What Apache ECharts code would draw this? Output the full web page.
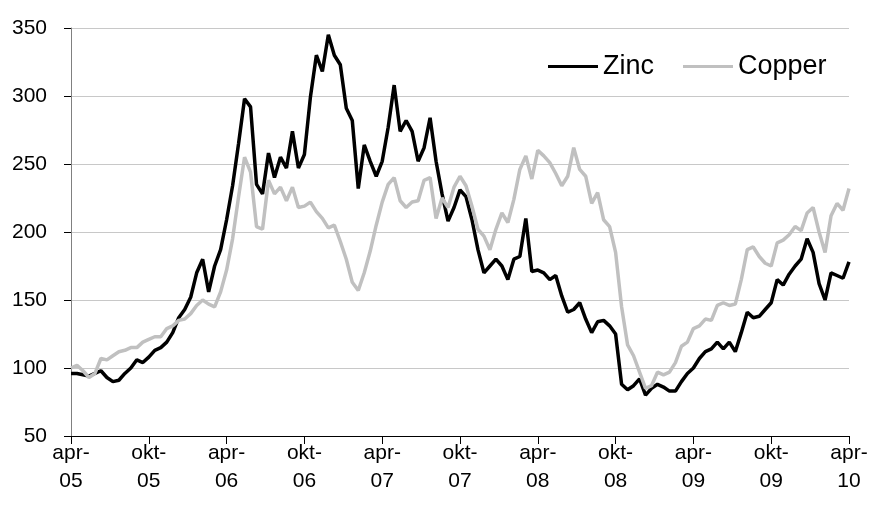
<!DOCTYPE html>
<html>
<head>
<meta charset="utf-8">
<script src="https://cdn.jsdelivr.net/npm/echarts@6/dist/echarts.min.js"></script>
<style>
  html, body { margin: 0; padding: 0; background: #fff; }
  #chart { width: 873px; height: 515px; }
</style>
</head>
<body>
<div id="chart"></div>
<script>
// one point every two weeks, apr-05 .. apr-10 (13 steps per half year)
const tickLabels = ['apr-\n05', 'okt-\n05', 'apr-\n06', 'okt-\n06', 'apr-\n07', 'okt-\n07',
  'apr-\n08', 'okt-\n08', 'apr-\n09', 'okt-\n09', 'apr-\n10']

const zinc = [
  96, 96, 95, 94, 96, 98, 93, 90, 91, 96, 100, 106, 104,
  108, 113, 115, 119, 126, 137, 143, 152, 170, 180, 156, 175, 187,
  209, 234, 265, 298, 292, 235, 228, 258, 240, 255, 247, 274, 247,
  257, 299, 330, 318, 345, 330, 323, 291, 282, 232, 264, 252, 241,
  252, 277, 308, 274, 282, 274, 252, 262, 284, 252, 228, 208, 218,
  231, 226, 209, 187, 170, 175, 180, 175, 165, 180, 182, 210, 171,
  172, 170, 165, 168, 153, 141, 143, 148, 136, 126, 134, 135, 131,
  125, 88, 84, 87, 92, 80, 85, 88, 86, 83, 83, 90, 96,
  100, 107, 112, 114, 119, 114, 119, 112, 126, 141, 137, 138, 143,
  148, 165, 161, 169, 175, 180, 195, 185, 162, 150, 170, 168, 166,
  178
]

const copper = [
  100, 102, 98, 93, 96, 107, 106, 109, 112, 113, 115, 115, 119,
  121, 123, 123, 129, 131, 135, 136, 140, 146, 150, 147, 145, 156,
  172, 195, 226, 255, 244, 204, 202, 238, 228, 233, 223, 233, 218,
  219, 222, 215, 210, 203, 205, 193, 180, 163, 157, 170, 186, 205,
  222, 235, 240, 223, 218, 222, 223, 238, 240, 210, 225, 218, 233,
  241, 234, 219, 202, 197, 187, 202, 214, 207, 224, 246, 256, 239,
  260, 256, 251, 243, 234, 241, 262, 246, 241, 221, 229, 209, 204,
  185, 145, 117, 109, 97, 85, 87, 97, 95, 97, 104, 116, 119,
  129, 131, 136, 135, 146, 148, 146, 147, 165, 187, 189, 182, 177,
  175, 192, 194, 198, 204, 201, 214, 218, 200, 185, 212, 221, 216,
  232
]

const categories = zinc.map((v, i) => (i % 13 === 0 ? tickLabels[i / 13] : String(i)))
const isTick = (idx) => idx % 13 === 0

const font = 'Liberation Sans, Arial, sans-serif'

const chart = echarts.init(document.getElementById('chart'))
chart.setOption({
  animation: false,
  grid: { left: 71, right: 24, top: 28, bottom: 79 },
  legend: {
    left: 543,
    top: 48,
    icon: 'rect',
    itemWidth: 50,
    itemHeight: 3,
    itemGap: 29,
    textStyle: { fontFamily: font, fontSize: 27, color: '#000' },
    data: ['Zinc', 'Copper']
  },
  xAxis: {
    type: 'category',
    boundaryGap: false,
    data: categories,
    axisLine: { lineStyle: { color: '#000', width: 1 } },
    axisTick: { show: true, length: 8, interval: (idx) => isTick(idx), lineStyle: { color: '#000' } },
    axisLabel: {
      interval: (idx) => isTick(idx),
      fontFamily: font,
      fontSize: 21,
      color: '#000',
      lineHeight: 28,
      margin: 3
    },
    splitLine: { show: false }
  },
  yAxis: {
    type: 'value',
    min: 50,
    max: 350,
    interval: 50,
    axisLine: { show: true, lineStyle: { color: '#808080', width: 1 } },
    axisTick: { show: true, length: 7, lineStyle: { color: '#000' } },
    axisLabel: { fontFamily: font, fontSize: 21, color: '#000', margin: 24 },
    splitLine: { show: true, lineStyle: { color: '#c8c8c8', width: 1 } }
  },
  series: [
    {
      name: 'Zinc',
      type: 'line',
      data: zinc,
      symbol: 'none',
      lineStyle: { color: '#000', width: 3.5 },
      itemStyle: { color: '#000' }
    },
    {
      name: 'Copper',
      type: 'line',
      data: copper,
      symbol: 'none',
      lineStyle: { color: '#c0c0c0', width: 3.5 },
      itemStyle: { color: '#c0c0c0' }
    }
  ]
})
</script>
</body>
</html>
